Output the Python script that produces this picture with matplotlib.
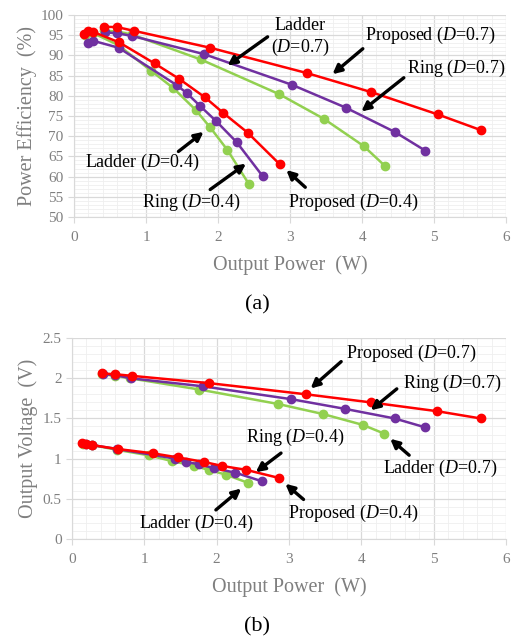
import matplotlib
matplotlib.use('Agg')
import matplotlib.pyplot as plt
from matplotlib.ticker import MultipleLocator

plt.rcParams['font.family'] = ['Liberation Serif', 'DejaVu Serif']
plt.rcParams['mathtext.fontset'] = 'custom'
plt.rcParams['mathtext.rm'] = 'Liberation Serif'
plt.rcParams['mathtext.it'] = 'Liberation Serif:italic'

# ---- (a) power efficiency vs output power ----
prop07_p = [0.41, 0.60, 0.83, 1.89, 3.24, 4.13, 5.05, 5.65]
prop07_eff = [97.1, 97.0, 96.1, 91.9, 85.6, 80.9, 75.4, 71.5]
ring07_p = [0.43, 0.60, 0.81, 1.81, 3.03, 3.77, 4.46, 4.88]
ring07_eff = [95.7, 95.5, 94.8, 90.3, 82.7, 77.1, 71.0, 66.4]
lad07_p = [0.42, 0.60, 0.80, 1.76, 2.85, 3.47, 4.02, 4.32]
lad07_eff = [96.2, 95.9, 95.2, 89.0, 80.4, 74.3, 67.6, 62.6]

prop04_p = [0.14, 0.20, 0.27, 0.63, 1.12, 1.46, 1.82, 2.07, 2.41, 2.86]
prop04_eff = [95.3, 96.1, 95.8, 93.2, 88.0, 84.2, 79.6, 75.8, 70.9, 63.0]
ring04_p = [0.19, 0.27, 0.62, 1.43, 1.57, 1.75, 1.97, 2.26, 2.62]
ring04_eff = [93.0, 93.6, 91.9, 82.6, 80.6, 77.5, 73.8, 68.5, 60.1]
lad04_p = [0.15, 0.27, 0.62, 1.07, 1.38, 1.69, 1.89, 2.13, 2.43]
lad04_eff = [95.0, 95.5, 92.5, 86.2, 81.9, 76.5, 72.2, 66.6, 58.1]

# ---- (b) output voltage vs output power ----
prop07_v = [2.06, 2.05, 2.03, 1.94, 1.80, 1.70, 1.59, 1.50]
ring07_v = [2.05, 2.04, 2.00, 1.90, 1.74, 1.62, 1.50, 1.39]
lad07_v = [2.05, 2.03, 2.00, 1.86, 1.68, 1.555, 1.42, 1.31]
prop04_v = [1.19, 1.18, 1.17, 1.12, 1.066, 1.016, 0.96, 0.91, 0.86, 0.76]
ring04_v = [1.18, 1.17, 1.12, 1.00, 0.96, 0.93, 0.88, 0.825, 0.72]
lad04_v = [1.18, 1.17, 1.11, 1.04, 0.97, 0.91, 0.86, 0.80, 0.70]

RED = '#FF0000'
PURPLE = '#7030A0'
GREEN = '#92D050'
GREY = '#7F7F7F'

fig = plt.figure(figsize=(5.12, 6.42), dpi=100)
ax1 = fig.add_axes([0.1445, 0.662, 0.844, 0.3146])
ax2 = fig.add_axes([0.1406, 0.1604, 0.8477, 0.313])


def style_axes(ax):
    ax.set_xlim(0, 6)
    ax.xaxis.set_major_locator(MultipleLocator(1))
    ax.xaxis.set_minor_locator(MultipleLocator(0.2))
    ax.grid(which='major', color='#D9D9D9', lw=0.9)
    ax.grid(which='minor', color='#EFEFEF', lw=0.6)
    ax.set_axisbelow(True)
    for s in ['top', 'right']:
        ax.spines[s].set_visible(False)
    for s in ['left', 'bottom']:
        ax.spines[s].set_color('#D9D9D9')
    ax.tick_params(which='major', colors='#D9D9D9', labelcolor=GREY, labelsize=11, length=4)
    ax.tick_params(axis='x', pad=6)
    ax.tick_params(which='minor', length=0)
    ax.set_xlabel('Output Power  (W)', fontsize=14.5, color=GREY, labelpad=8)


def draw(ax, xs, ys, color):
    ax.plot(xs, ys, color=color, lw=1.8, marker='o', ms=6, zorder=3)


def note(ax, text, txy, tail, head, ha='left'):
    ax.text(txy[0], txy[1], text, fontsize=13, ha=ha, va='center', color='black')
    ax.annotate('', xy=head, xytext=tail,
                arrowprops=dict(arrowstyle='-|>', lw=2.4, color='black', mutation_scale=13))


style_axes(ax1)
ax1.set_ylim(50, 100)
ax1.yaxis.set_major_locator(MultipleLocator(5))
ax1.yaxis.set_minor_locator(MultipleLocator(1))
ax1.set_ylabel('Power Efficiency  (%)', fontsize=14.5, color=GREY, labelpad=3)

draw(ax1, lad07_p, lad07_eff, GREEN)
draw(ax1, lad04_p, lad04_eff, GREEN)
draw(ax1, ring07_p, ring07_eff, PURPLE)
draw(ax1, ring04_p, ring04_eff, PURPLE)
draw(ax1, prop07_p, prop07_eff, RED)
draw(ax1, prop04_p, prop04_eff, RED)

note(ax1, 'Ladder\n($\\it{D}$=0.7)', (3.14, 94.4), (2.72, 95.0), (2.10, 87.1), ha='center')
note(ax1, 'Proposed ($\\it{D}$=0.7)', (4.04, 95.0), (4.04, 92.1), (3.56, 84.9))
note(ax1, 'Ring ($\\it{D}$=0.7)', (4.63, 86.9), (4.61, 84.9), (3.96, 75.7))
note(ax1, 'Proposed ($\\it{D}$=0.4)', (2.97, 53.7), (3.24, 56.9), (2.92, 62.1))
note(ax1, 'Ring ($\\it{D}$=0.4)', (0.94, 53.7), (1.86, 56.4), (2.42, 63.6))
note(ax1, 'Ladder ($\\it{D}$=0.4)', (0.15, 63.4), (1.42, 65.8), (1.83, 71.5))

style_axes(ax2)
ax2.set_ylim(0, 2.5)
ax2.yaxis.set_major_locator(MultipleLocator(0.5))
ax2.yaxis.set_minor_locator(MultipleLocator(0.1))
ax2.set_yticks([0, 0.5, 1, 1.5, 2, 2.5])
ax2.set_yticklabels(['0', '0.5', '1', '1.5', '2', '2.5'])
ax2.set_ylabel('Output Voltage  (V)', fontsize=14.5, color=GREY, labelpad=3)

draw(ax2, lad07_p, lad07_v, GREEN)
draw(ax2, lad04_p, lad04_v, GREEN)
draw(ax2, ring07_p, ring07_v, PURPLE)
draw(ax2, ring04_p, ring04_v, PURPLE)
draw(ax2, prop07_p, prop07_v, RED)
draw(ax2, prop04_p, prop04_v, RED)

note(ax2, 'Proposed ($\\it{D}$=0.7)', (3.79, 2.31), (3.75, 2.23), (3.27, 1.85))
note(ax2, 'Ring ($\\it{D}$=0.7)', (4.58, 1.94), (4.52, 1.89), (4.10, 1.58))
note(ax2, 'Ladder ($\\it{D}$=0.7)', (4.30, 0.88), (4.69, 1.02), (4.37, 1.27))
note(ax2, 'Ring ($\\it{D}$=0.4)', (2.40, 1.27), (2.92, 1.09), (2.51, 0.81))
note(ax2, 'Ladder ($\\it{D}$=0.4)', (0.92, 0.19), (1.96, 0.34), (2.37, 0.65))
note(ax2, 'Proposed ($\\it{D}$=0.4)', (2.98, 0.32), (3.23, 0.47), (2.92, 0.71))

fig.text(0.502, 1 - 305 / 642, '(a)', fontsize=16, ha='center', va='center')
fig.text(0.502, 1 - 627 / 642, '(b)', fontsize=16, ha='center', va='center')

fig.savefig('out.png', dpi=100)
